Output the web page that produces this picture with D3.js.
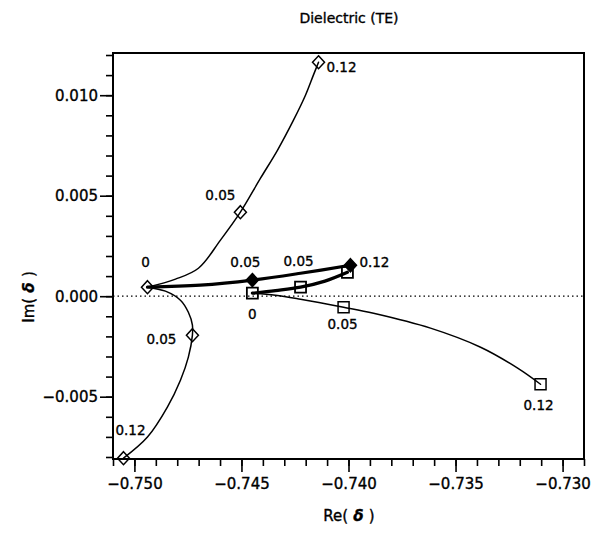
<!DOCTYPE html>
<html>
<head>
<meta charset="utf-8">
<script src="https://cdn.jsdelivr.net/npm/d3@7"></script>
<style>
  html, body { margin: 0; padding: 0; background: #fff; }
  svg { display: block; }
  text { font-family: "DejaVu Sans", "Liberation Sans", sans-serif; fill: #000; stroke: #000; stroke-width: 0.35px; }
</style>
</head>
<body>
<svg id="chart" width="602" height="533"></svg>
<script>
// ---------------- DATA ----------------
const title = "Dielectric (TE)";
const xTicksMajor = [-0.750, -0.745, -0.740, -0.735, -0.730];
const yTicksMajor = [-0.005, 0.000, 0.005, 0.010];

// thin curve with open diamonds, going up
const upRe = [-0.74939, -0.74808, -0.74701, -0.74598, -0.74505, -0.74411, -0.74332, -0.74257, -0.74201, -0.74164, -0.74140];
const upIm = [0.00045, 0.00085, 0.00139, 0.00279, 0.00418, 0.00587, 0.00726, 0.00876, 0.01000, 0.01100, 0.01164];
const upMarkRe = [-0.74939, -0.74505, -0.74140];
const upMarkIm = [0.00045, 0.00418, 0.01164];
const upMarkLabel = ["0", "0.05", "0.12"];

// thin curve with open diamonds, going down
const downRe = [-0.74939, -0.74855, -0.74785, -0.74748, -0.74729, -0.74729, -0.74748, -0.74785, -0.74846, -0.74939, -0.75051];
const downIm = [0.00045, 0.00025, -0.00020, -0.00080, -0.00144, -0.00194, -0.00303, -0.00418, -0.00552, -0.00701, -0.00806];
const downMarkRe = [-0.74729, -0.75051];
const downMarkIm = [-0.00194, -0.00806];
const downMarkLabel = ["0.05", "0.12"];

// thick curve with filled diamonds
const thickDiaRe = [-0.74939, -0.74692, -0.74449, -0.74224, -0.73991];
const thickDiaIm = [0.00045, 0.00055, 0.00080, 0.00114, 0.00154];
const thickDiaMarkRe = [-0.74449, -0.73991];
const thickDiaMarkIm = [0.00080, 0.00154];
const thickDiaMarkLabel = ["0.05", "0.12"];

// thick curve with open squares
const thickSqRe = [-0.74449, -0.74341, -0.74224, -0.74110, -0.74005];
const thickSqIm = [0.00015, 0.00028, 0.00045, 0.00075, 0.00119];
const thickSqMarkRe = [-0.74449, -0.74224, -0.74005];
const thickSqMarkIm = [0.00015, 0.00045, 0.00119];
const thickSqMarkLabel = ["0", "0.05", ""];

// thin curve with open squares
const thinSqRe = [-0.74449, -0.74341, -0.74224, -0.74023, -0.73883, -0.73617, -0.73383, -0.73210, -0.73103];
const thinSqIm = [0.00015, 0.00005, -0.00015, -0.00055, -0.00085, -0.00159, -0.00254, -0.00358, -0.00438];
const thinSqMarkRe = [-0.74023, -0.73103];
const thinSqMarkIm = [-0.00055, -0.00438];
const thinSqMarkLabel = ["0.05", "0.12"];

// ---------------- DRAW ----------------
const svg = d3.select("#chart");
const L = 113, R = 584, T = 53, B = 459;
const x = d3.scaleLinear().domain([-0.751, -0.729]).range([L, R]);
const y = d3.scaleLinear().domain([-0.0081, 0.0121]).range([B, T]);
const fmt = d3.format(".3f");

// title
svg.append("text").attr("x", 349).attr("y", 23).attr("text-anchor", "middle")
  .style("font-size", "14px").text(title);

// minor ticks
const xMinor = d3.range(-751, -728).map(v => v / 1000);
const yMinor = d3.range(-8, 13).map(v => v / 1000);
svg.append("g").attr("transform", `translate(0,${B})`)
  .call(d3.axisBottom(x).tickValues(xMinor).tickSize(7).tickFormat(""))
  .call(g => g.select(".domain").remove())
  .selectAll("line").attr("stroke-width", 1.6);
svg.append("g").attr("transform", `translate(${L},0)`)
  .call(d3.axisLeft(y).tickValues(yMinor).tickSize(7).tickFormat(""))
  .call(g => g.select(".domain").remove())
  .selectAll("line").attr("stroke-width", 1.6);

// major ticks
const gx = svg.append("g").attr("transform", `translate(0,${B})`)
  .call(d3.axisBottom(x).tickValues(xTicksMajor).tickSize(13).tickPadding(6).tickFormat(fmt))
  .call(g => g.select(".domain").remove());
gx.selectAll("line").attr("stroke-width", 1.6);
gx.selectAll("text").style("font-size", "15px").style("font-family", "'DejaVu Sans', sans-serif").attr("fill", "#000");

const gy = svg.append("g").attr("transform", `translate(${L},0)`)
  .call(d3.axisLeft(y).tickValues(yTicksMajor).tickSize(13).tickPadding(2).tickFormat(fmt))
  .call(g => g.select(".domain").remove());
gy.selectAll("line").attr("stroke-width", 1.6);
gy.selectAll("text").style("font-size", "15px").style("font-family", "'DejaVu Sans', sans-serif").attr("fill", "#000");

// frame
svg.append("rect").attr("x", L).attr("y", T).attr("width", R - L).attr("height", B - T)
  .attr("fill", "none").attr("stroke", "#000").attr("stroke-width", 2);

// zero dotted line
svg.append("line").attr("x1", L).attr("x2", R).attr("y1", y(0)).attr("y2", y(0))
  .attr("stroke", "#000").attr("stroke-width", 1.3).attr("stroke-dasharray", "1.5,3");

// axis labels
const xl = svg.append("text").attr("x", 349).attr("y", 521).attr("text-anchor", "middle").style("font-size", "15px");
xl.append("tspan").text("Re(");
xl.append("tspan").style("font-weight", "bold").style("font-style", "italic").text(" δ ");
xl.append("tspan").text(")");
const yl = svg.append("text").attr("transform", "translate(34,297) rotate(-90)").attr("text-anchor", "middle").style("font-size", "15px");
yl.append("tspan").text("Im(");
yl.append("tspan").style("font-weight", "bold").style("font-style", "italic").text(" δ ");
yl.append("tspan").text(")");

// curves
const line = d3.line().x(d => x(d[0])).y(d => y(d[1])).curve(d3.curveCatmullRom.alpha(0.5));
const zip = (a, b) => a.map((v, i) => [v, b[i]]);
const curves = [
  { re: upRe, im: upIm, w: 1.5 },
  { re: downRe, im: downIm, w: 1.5 },
  { re: thinSqRe, im: thinSqIm, w: 1.5 },
  { re: thickDiaRe, im: thickDiaIm, w: 3.2 },
  { re: thickSqRe, im: thickSqIm, w: 3.2 }
];
curves.forEach(c => {
  svg.append("path").datum(zip(c.re, c.im)).attr("d", line)
    .attr("fill", "none").attr("stroke", "#000").attr("stroke-width", c.w)
    .attr("stroke-linejoin", "round").attr("stroke-linecap", "round");
});

// markers
const diamond = (cx, cy) => `M${cx},${cy - 6.5}L${cx + 6},${cy}L${cx},${cy + 6.5}L${cx - 6},${cy}Z`;
const square = (cx, cy) => `M${cx - 5.5},${cy - 5.5}h11v11h-11Z`;
const markerSets = [
  { re: upMarkRe, im: upMarkIm, lab: upMarkLabel, shape: diamond, fill: "none", sw: 1.5,
    off: [[-2, -25], [-20, -17], [23, 5]] },
  { re: downMarkRe, im: downMarkIm, lab: downMarkLabel, shape: diamond, fill: "none", sw: 1.5,
    off: [[-31, 4], [7, -28]] },
  { re: thickDiaMarkRe, im: thickDiaMarkIm, lab: thickDiaMarkLabel, shape: diamond, fill: "#000", sw: 1.6,
    off: [[-7, -18], [24, -3]] },
  { re: thickSqMarkRe, im: thickSqMarkIm, lab: thickSqMarkLabel, shape: square, fill: "none", sw: 1.8,
    off: [[0, 21], [-2, -26], [0, 0]] },
  { re: thinSqMarkRe, im: thinSqMarkIm, lab: thinSqMarkLabel, shape: square, fill: "none", sw: 1.5,
    off: [[-1, 17], [-2, 21]] }
];
markerSets.forEach(s => {
  s.re.forEach((r, i) => {
    const cx = x(r), cy = y(s.im[i]);
    svg.append("path").attr("d", s.shape(cx, cy)).attr("fill", s.fill)
      .attr("stroke", "#000").attr("stroke-width", s.sw);
    if (s.lab[i]) {
      svg.append("text").attr("x", cx + s.off[i][0]).attr("y", cy + s.off[i][1])
        .attr("text-anchor", "middle").attr("dominant-baseline", "central")
        .style("font-size", "13.5px").text(s.lab[i]);
    }
  });
});
</script>
</body>
</html>
